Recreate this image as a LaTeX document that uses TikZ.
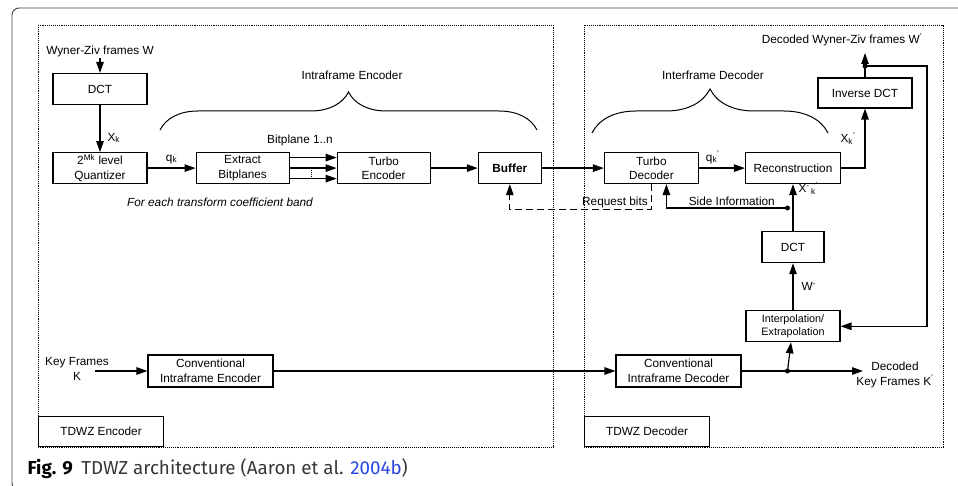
\documentclass[tikz,border=0pt]{standalone}
\usepackage{fontspec}
\setmainfont{Liberation Sans}
\newfontfamily\capfont{Fira Sans}
\usetikzlibrary{arrows.meta,positioning,decorations.pathreplacing}
\definecolor{citeblue}{RGB}{40,70,225}
\definecolor{capgray}{RGB}{55,55,55}
\newcommand\diagsize{\fontsize{11.8}{14.5}\selectfont}

\begin{document}
\begin{tikzpicture}[x=1pt,y=-1pt,->,>={Triangle[length=11pt,width=7.5pt]},
        line width=1.2pt,font=\diagsize,
        block/.style={draw,line width=1.1pt,minimum width=94pt,minimum height=31pt,
          inner sep=1.5pt,align=center},
        lbl/.style={inner sep=1pt,align=center},
        zone/.style={-,line width=0.9pt,densely dotted},
        reqline/.style={dash pattern=on 7pt off 4pt},
        curly/.style={-,line width=1pt,decorate,decoration={brace,amplitude=#1}}]

  \useasboundingbox (0,0) rectangle (958,486);
  \clip (0,0) rectangle (958,486);
  \draw[-,line width=0.9pt,black!75,rounded corners=7pt] (970,8) -- (12,8) -- (12,490) -- (40,490);

  % encoder and decoder areas
  \draw[zone] (38,25) rectangle (553,447);
  \draw[zone] (584,25) rectangle (943,447);
  \node[block,minimum width=125pt,minimum height=30pt,anchor=south west] (encname) at (38,447) {TDWZ Encoder};
  \node[block,minimum width=125pt,minimum height=30pt,anchor=south west] (decname) at (584,447) {TDWZ Decoder};

  % encoder
  \node[lbl] (win) at (100,51) {Wyner-Ziv frames W};
  \node[block] (dct) at (100,89) {DCT};
  \node[block,below=47pt of dct] (quant) {2\textsuperscript{Mk} level\\Quantizer};
  \node[block,right=48pt of quant,minimum width=93pt] (extract) {Extract\\Bitplanes};
  \node[block,right=47pt of extract,minimum width=93pt] (tenc) {Turbo\\Encoder};
  \node[block,right=47pt of tenc,minimum width=63pt] (buf) {\bfseries Buffer};
  \node[lbl] (bpl) at (300,140) {Bitplane 1..n};
  \node[lbl,font=\diagsize\itshape] (band) at (220,202) {For each transform coefficient band};
  \node[block,minimum width=125pt,minimum height=32pt] (cenc) at (210.5,371) {Conventional\\Intraframe Encoder};
  \node[lbl] (keyin) at (77,369) {Key Frames\\K};
  \coordinate (kin) at (95,371);

  % decoder
  \node[block,right=62pt of buf] (tdec) {Turbo\\Decoder};
  \node[block,right=46pt of tdec,minimum width=95pt] (recon) {Reconstruction};
  \node[block,minimum height=30pt] (idct) at (865,93) {Inverse DCT};
  \node[block,below=47pt of recon,minimum width=62pt] (dct2) {DCT};
  \node[block,below=47pt of dct2,font=\fontsize{10.8}{13}\selectfont] (interp) {Interpolation/\\Extrapolation};
  \node[block,minimum width=125pt,minimum height=32pt] (cdec) at (678.5,371) {Conventional\\Intraframe Decoder};
  \node[lbl] (wout) at (842,40) {Decoded Wyner-Ziv frames W\textsuperscript{'}};
  \node[lbl] (kout) at (895,375) {Decoded\\Key Frames K\textsuperscript{'}};
  \coordinate (wtip) at (865,53);
  \coordinate (jw) at (865,66);
  \coordinate (jside) at (787.5,208);
  \coordinate (jkey) at (787.5,371);
  \coordinate (kend) at (863,371);

  % braces
  \draw[curly=38pt] (160,130) -- (537,130);
  \node[lbl] (encbrace) at (352,75) {Intraframe Encoder};
  \draw[curly=44pt] (592,133) -- (828,133);
  \node[lbl] (decbrace) at (713,75) {Interframe Decoder};

  \path (win) edge (dct)
        (dct) edge node[lbl,pos=0.7,right=6pt] {X\textsubscript{k}} (quant)
        (quant) edge node[lbl,above=3pt] {q\textsubscript{k}} (extract)
        (tenc) edge (buf)
        (buf) edge (tdec)
        (tdec) edge node[lbl,pos=0.3,above=3pt] {q\textsubscript{k}\textsuperscript{'}} (recon)
        (dct2) edge node[lbl,pos=0.9,right=4pt] {X\textsuperscript{-}\textsubscript{\,k}\textsuperscript{'}} (recon)
        (interp) edge node[lbl,midway,right=7pt] {W\textsuperscript{-}} (dct2)
        (idct) edge (wtip)
        (kin) edge (cenc)
        (cenc) edge (cdec)
        (cdec) edge (kend)
        (jkey) edge (interp);

  \foreach \dy in {10.5,0,-10.5}
    \draw ([yshift=\dy pt]extract.east) -- ([yshift=\dy pt]tenc.west);
  \draw[-,densely dotted] ([xshift=22pt,yshift=-1.5pt]extract.east) -- ([xshift=22pt,yshift=-9pt]extract.east);

  \draw (recon) -| (idct) node[lbl,pos=0.75,left=8pt] {X\textsubscript{k}\textsuperscript{'}};
  \draw (jw) -- ++(62,0) |- (interp.east);
  \draw (jside) -| ([xshift=15pt]tdec.south) node[lbl,pos=0.23,above=1pt] {Side Information};
  \draw[reqline] (tdec.south) -- ++(0,25) node[lbl,above left,xshift=-2pt] {Request bits} -| (buf.south);

  \foreach \j in {jw,jside,jkey}
    \fill (\j) circle (2.5pt);

  \node[anchor=base west,inner sep=0pt,font=\capfont\fontsize{18.8}{22}\selectfont] (cap) at (27,474)
    {\textbf{Fig. 9}\hspace{0.45em}\textcolor{capgray}{TDWZ architecture (Aaron et al. }\textcolor{citeblue}{2004b}\textcolor{capgray}{)}};

\end{tikzpicture}
\end{document}
